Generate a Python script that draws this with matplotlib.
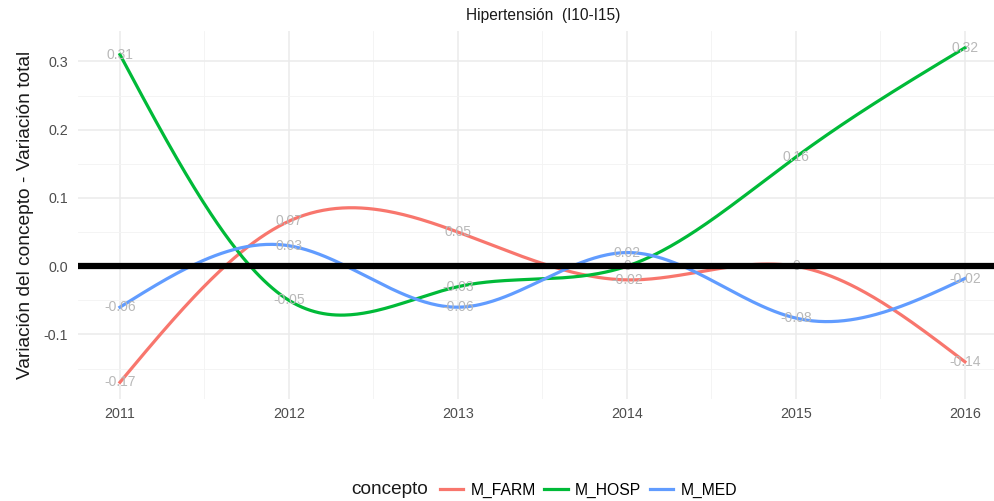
import numpy as np
import matplotlib
matplotlib.use('Agg')
import matplotlib.pyplot as plt
from matplotlib.lines import Line2D

plt.rcParams['font.family'] = ['Liberation Sans', 'DejaVu Sans']

years = [2011, 2012, 2013, 2014, 2015, 2016]
m_farm = [-0.17, 0.066, 0.05, -0.02, 0.00, -0.14]
m_hosp = [0.31, -0.05, -0.03, 0.00, 0.16, 0.32]
m_med = [-0.06, 0.03, -0.06, 0.02, -0.076, -0.018]
farm_labels = ['-0.17', '0.07', '0.05', '-0.02', '0', '-0.14']
hosp_labels = ['0.31', '-0.05', '-0.03', '0', '0.16', '0.32']
med_labels = ['-0.06', '0.03', '-0.06', '0.02', '-0.08', '-0.02']
series_names = ['M_FARM', 'M_HOSP', 'M_MED']
colors = ['#F8766D', '#00BA38', '#619CFF']


def natural_spline(x, y, n=400):
    # natural cubic spline through the points, only to draw a smooth line
    x = np.asarray(x, float)
    y = np.asarray(y, float)
    h = np.diff(x)
    k = len(x)
    A = np.zeros((k, k))
    b = np.zeros(k)
    A[0, 0] = A[-1, -1] = 1.0
    for i in range(1, k - 1):
        A[i, i - 1] = h[i - 1]
        A[i, i] = 2 * (h[i - 1] + h[i])
        A[i, i + 1] = h[i]
        b[i] = 6 * ((y[i + 1] - y[i]) / h[i] - (y[i] - y[i - 1]) / h[i - 1])
    M = np.linalg.solve(A, b)
    xs = np.linspace(x[0], x[-1], n)
    idx = np.clip(np.searchsorted(x, xs) - 1, 0, k - 2)
    x0, x1 = x[idx], x[idx + 1]
    hh = x1 - x0
    ys = (M[idx] * (x1 - xs) ** 3 / (6 * hh) + M[idx + 1] * (xs - x0) ** 3 / (6 * hh)
          + (y[idx] / hh - M[idx] * hh / 6) * (x1 - xs)
          + (y[idx + 1] / hh - M[idx + 1] * hh / 6) * (xs - x0))
    return xs, ys


fig = plt.figure(figsize=(9.95, 5.01), dpi=100)
ax = fig.add_axes([0.0781, 0.2036, 0.9219, 0.7344])

for vals, labs, col in zip([m_farm, m_hosp, m_med],
                           [farm_labels, hosp_labels, med_labels], colors):
    xs, ys = natural_spline(years, vals)
    ax.plot(xs, ys, color=col, lw=2.3, zorder=3)
    for xv, yv, t in zip(years, vals, labs):
        ax.text(xv, yv, t, color='#b8b8b8', fontsize=10, ha='center', va='center', zorder=4)

ax.axhline(0, color='black', lw=4.5, zorder=5)

ax.set_xlim(2010.75, 2016.178)
ax.set_ylim(-0.1945, 0.3445)
ax.set_xticks(years)
ax.set_xticklabels([str(y) for y in years])
ax.set_xticks([2011.5, 2012.5, 2013.5, 2014.5, 2015.5], minor=True)
ax.set_yticks([-0.1, 0.0, 0.1, 0.2, 0.3])
ax.set_yticklabels(['-0.1', '0.0', '0.1', '0.2', '0.3'])
ax.set_yticks([-0.15, -0.05, 0.05, 0.15, 0.25], minor=True)
ax.grid(which='major', color='#ebebeb', lw=1.1)
ax.grid(which='minor', color='#f3f3f3', lw=0.6)
ax.set_axisbelow(True)
for s in ax.spines.values():
    s.set_visible(False)
ax.tick_params(which='both', length=0, labelsize=10.3, labelcolor='#4d4d4d')
ax.tick_params(axis='x', pad=6)
ax.tick_params(axis='y', pad=7)

ax.set_ylabel('Variación del concepto - Variación total', fontsize=13.8, color='#1a1a1a', labelpad=7)
fig.text(0.546, 0.970, 'Hipertensión  (I10-I15)', ha='center', va='center', fontsize=11.2, color='#1a1a1a')

# legend at the bottom: title on the left, keys in one row
fig.text(0.43, 0.022, 'concepto', ha='right', va='center', fontsize=13.7, color='#1a1a1a')
handles = [Line2D([0], [0], color=c, lw=2.3) for c in colors]
fig.legend(handles, series_names, loc='center left', ncol=3,
           bbox_to_anchor=(0.442, 0.022), frameon=False, fontsize=11.3,
           handlelength=1.5, handletextpad=0.45, columnspacing=0.55,
           borderaxespad=0, borderpad=0)

fig.savefig('out.png', dpi=100)
